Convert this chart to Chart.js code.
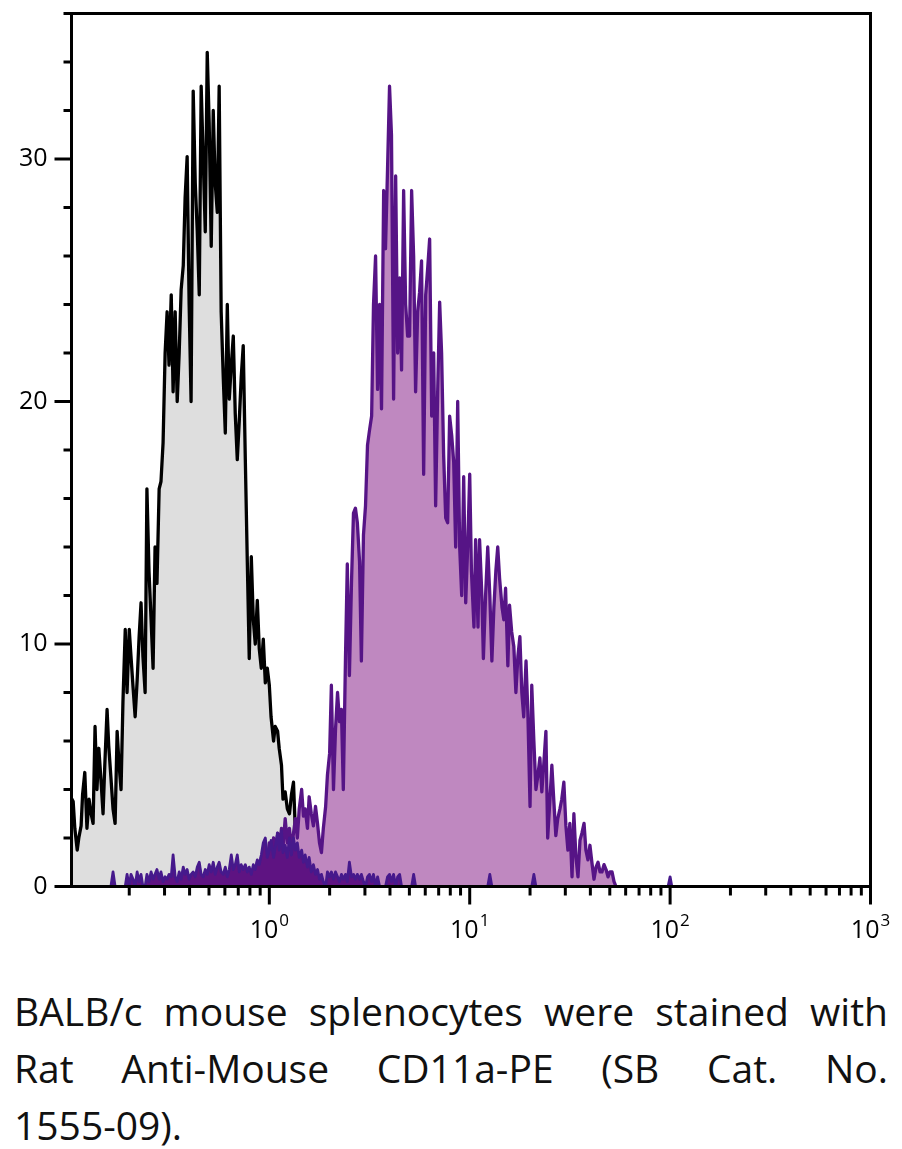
<!DOCTYPE html>
<html>
<head>
<meta charset="utf-8">
<script src="https://cdn.jsdelivr.net/npm/chart.js@4/dist/chart.umd.min.js"></script>
<style>
  body { margin: 0; background: #fff; }
  #wrap { position: relative; width: 902px; height: 1149px; overflow: hidden; }
  #histo { position: absolute; left: 0; top: 0; }
  #caption {
    position: absolute; left: 14px; top: 982px; width: 874px;
    font-family: "Open Sans", sans-serif; font-size: 39px; line-height: 57px; color: #111;
  }
  #caption .j { text-align: justify; text-align-last: justify; }
</style>
</head>
<body>
<div id="wrap">
  <canvas id="histo" width="902" height="960"></canvas>
  <div id="caption">
    <div class="j">BALB/c mouse splenocytes were stained with</div>
    <div class="j">Rat Anti-Mouse CD11a-PE (SB Cat. No.</div>
    <div>1555-09).</div>
  </div>
</div>
<script>
// histogram bin centres (log spaced, 100 per decade)
const bins = [
  0.100, 0.102, 0.105, 0.107, 0.110, 0.112, 0.115, 0.117, 0.120, 0.123,
  0.126, 0.129, 0.132, 0.135, 0.138, 0.141, 0.145, 0.148, 0.151, 0.155,
  0.158, 0.162, 0.166, 0.170, 0.174, 0.178, 0.182, 0.186, 0.191, 0.195,
  0.200, 0.204, 0.209, 0.214, 0.219, 0.224, 0.229, 0.234, 0.240, 0.245,
  0.251, 0.257, 0.263, 0.269, 0.275, 0.282, 0.288, 0.295, 0.302, 0.309,
  0.316, 0.324, 0.331, 0.339, 0.347, 0.355, 0.363, 0.372, 0.380, 0.389,
  0.398, 0.407, 0.417, 0.427, 0.437, 0.447, 0.457, 0.468, 0.479, 0.490,
  0.501, 0.513, 0.525, 0.537, 0.550, 0.562, 0.575, 0.589, 0.603, 0.617,
  0.631, 0.646, 0.661, 0.676, 0.692, 0.708, 0.724, 0.741, 0.759, 0.776,
  0.794, 0.813, 0.832, 0.851, 0.871, 0.891, 0.912, 0.933, 0.955, 0.977,
  1.00, 1.02, 1.05, 1.07, 1.10, 1.12, 1.15, 1.17, 1.20, 1.23,
  1.26, 1.29, 1.32, 1.35, 1.38, 1.41, 1.45, 1.48, 1.51, 1.55,
  1.58, 1.62, 1.66, 1.70, 1.74, 1.78, 1.82, 1.86, 1.91, 1.95,
  2.00, 2.04, 2.09, 2.14, 2.19, 2.24, 2.29, 2.34, 2.40, 2.45,
  2.51, 2.57, 2.63, 2.69, 2.75, 2.82, 2.88, 2.95, 3.02, 3.09,
  3.16, 3.24, 3.31, 3.39, 3.47, 3.55, 3.63, 3.72, 3.80, 3.89,
  3.98, 4.07, 4.17, 4.27, 4.37, 4.47, 4.57, 4.68, 4.79, 4.90,
  5.01, 5.13, 5.25, 5.37, 5.50, 5.62, 5.75, 5.89, 6.03, 6.17,
  6.31, 6.46, 6.61, 6.76, 6.92, 7.08, 7.24, 7.41, 7.59, 7.76,
  7.94, 8.13, 8.32, 8.51, 8.71, 8.91, 9.12, 9.33, 9.55, 9.77,
  10.0, 10.2, 10.5, 10.7, 11.0, 11.2, 11.5, 11.7, 12.0, 12.3,
  12.6, 12.9, 13.2, 13.5, 13.8, 14.1, 14.5, 14.8, 15.1, 15.5,
  15.8, 16.2, 16.6, 17.0, 17.4, 17.8, 18.2, 18.6, 19.1, 19.5,
  20.0, 20.4, 20.9, 21.4, 21.9, 22.4, 22.9, 23.4, 24.0, 24.5,
  25.1, 25.7, 26.3, 26.9, 27.5, 28.2, 28.8, 29.5, 30.2, 30.9,
  31.6, 32.4, 33.1, 33.9, 34.7, 35.5, 36.3, 37.2, 38.0, 38.9,
  39.8, 40.7, 41.7, 42.7, 43.7, 44.7, 45.7, 46.8, 47.9, 49.0,
  50.1, 51.3, 52.5, 53.7, 55.0, 56.2, 57.5, 58.9, 60.3, 61.7,
  63.1, 64.6, 66.1, 67.6, 69.2, 70.8, 72.4, 74.1, 75.9, 77.6,
  79.4, 81.3, 83.2, 85.1, 87.1, 89.1, 91.2, 93.3, 95.5, 97.7,
  100, 102, 105
];

// unstained / control histogram (black outline, grey fill), starts at bins[0]
const controlStart = 0;
const controlCounts = [
  3.7, 3.7, 3.5, 2.4, 1.5, 2.0, 2.5, 3.8, 4.7, 2.4,
  3.6, 3.0, 2.6, 6.6, 4.0, 5.7, 4.2, 3.0, 5.0, 7.3,
  5.8, 4.5, 3.2, 2.6, 6.4, 5.0, 4.0, 7.6, 10.6, 8.0,
  10.6, 9.5, 8.2, 7.0, 8.5, 10.3, 11.7, 9.5, 8.0, 16.4,
  13.0, 11.0, 9.0, 14.0, 12.5, 16.4, 16.7, 18.3, 22.0, 23.7,
  21.5, 24.4, 20.4, 23.7, 20.0, 22.0, 24.6, 25.6, 28.4, 30.1,
  24.0, 20.0, 32.8, 29.0, 27.0, 24.4, 33.0, 30.0, 27.0, 34.4,
  31.5, 26.4, 32.0, 29.0, 27.8, 33.0, 23.7, 21.0, 18.7, 24.0,
  20.1, 21.5, 22.7, 19.5, 17.6, 19.2, 21.0, 22.3, 17.6, 13.5,
  9.4, 13.6, 11.0, 10.0, 11.8, 9.8, 9.0, 10.2, 8.4, 9.0,
  8.3, 7.0, 6.0, 6.6, 6.4, 5.7, 5.0, 3.6, 3.9, 3.2,
  3.0, 3.8, 4.3, 2.2, 2.6, 1.8, 1.5, 1.2, 1.0, 0.7,
  0.5, 0.3, 0
];

// CD11a-PE stained histogram (purple), starts at bins[91]
const cd11aStart = 91;
const cd11aCounts = [
  0, 0.6, 0.3, 1.0, 0.5, 1.2, 0.8, 1.5, 1.0, 1.8,
  1.2, 2.0, 1.4, 2.2, 1.5, 2.4, 1.6, 2.8, 1.8, 2.4,
  1.5, 2.2, 2.8, 2.0, 3.2, 4.0, 2.9, 3.2, 2.4, 3.7,
  3.0, 2.5, 3.3, 2.6, 1.8, 1.4, 2.4, 3.3, 4.6, 5.5,
  8.3, 4.0, 6.5, 8.0, 6.8, 7.3, 4.0, 9.5, 13.3, 8.7,
  12.5, 15.4, 15.6, 15.0, 13.4, 9.3, 14.5, 15.7, 18.2, 18.8,
  19.4, 24.0, 26.0, 20.5, 24.0, 19.7, 28.7, 26.3, 29.6, 33.0,
  31.0, 20.1, 29.3, 22.0, 25.1, 21.3, 28.7, 24.0, 22.7, 22.7,
  28.7, 26.0, 20.4, 23.7, 24.5, 25.8, 17.0, 24.4, 25.5, 26.7,
  19.4, 22.0, 15.7, 20.4, 24.1, 22.0, 17.8, 15.2, 15.0, 19.4,
  18.6, 17.5, 14.0, 20.0, 14.0, 12.0, 16.9, 11.7, 14.0, 17.0,
  13.0, 10.7, 14.3, 10.7, 14.3, 12.0, 9.4, 12.0, 14.0, 12.0,
  9.3, 11.5, 13.0, 14.0, 12.7, 11.5, 11.0, 12.3, 9.1, 11.6,
  10.5, 9.9, 8.0, 9.5, 10.3, 8.0, 7.0, 9.3, 7.2, 3.3,
  8.3, 6.0, 4.0, 4.6, 5.3, 3.9, 5.0, 6.4, 2.0, 3.5,
  5.0, 3.5, 2.1, 2.8, 3.2, 3.6, 4.3, 2.5, 1.5, 2.6,
  0.4, 3.0, 1.2, 0.4, 1.9, 2.2, 2.6, 1.5, 1.1, 1.7,
  1.0, 0.3, 0.8, 1.0, 0.6, 0.6, 0.9, 0.7, 0.4, 0.6,
  0.6, 0.2, 0
];

// low-level events (dark indigo), starts at bins[20]
const lowStart = 20;
const lowCounts = [
  0, 0, 0.6, 0, 0, 0, 0, 0, 0, 0.5,
  0, 0.5, 0.3, 0, 0.6, 0.2, 0.5, 0, 0, 0.5,
  0.2, 0.6, 0.3, 0.5, 0.7, 0.3, 0.6, 0.2, 0.4, 0.3,
  0.5, 0.4, 1.3, 0.4, 0.2, 0.6, 0.3, 0.8, 0.5, 0.7,
  0.3, 0.5, 0.6, 0.4, 0.8, 1.0, 0.5, 0.4, 0.7, 0.5,
  0.9, 0.6, 1.0, 0.5, 0.8, 1.0, 0.6, 0.5, 0.8, 0.4,
  0.7, 1.3, 0.7, 0.9, 1.3, 0.6, 0.9, 0.7, 0.9, 0.6,
  0.8, 0.5, 0.9, 0.7, 1.1, 0.9, 1.3, 1.8, 2.0, 1.2,
  1.5, 1.9, 1.2, 1.6, 2.2, 1.5, 2.3, 1.4, 1.7, 1.2,
  2.0, 1.3, 2.0, 1.5, 1.8, 1.2, 1.5, 1.0, 1.3, 0.8,
  1.2, 0.6, 0.9, 0.5, 0.7, 0.3, 0.5, 0.2, 0, 0.6,
  0.4, 0.6, 0.3, 0.6, 0.4, 0.2, 0.5, 0.3, 0.5, 0.2,
  1.0, 0.4, 0.5, 0.3, 0.5, 0.3, 0.5, 0.2, 0, 0.4,
  0.5, 0.2, 0.5, 0, 0.4, 0, 0, 0, 0, 0.4,
  0.5, 0.2, 0.5, 0, 0.4, 0.5, 0, 0, 0, 0,
  0, 0, 0.5, 0, 0, 0, 0, 0, 0, 0,
  0, 0, 0, 0, 0, 0, 0, 0, 0, 0,
  0, 0, 0, 0, 0, 0, 0, 0, 0, 0,
  0, 0, 0, 0, 0, 0, 0, 0, 0, 0,
  0.5, 0, 0, 0, 0, 0, 0, 0, 0, 0,
  0, 0, 0, 0, 0, 0, 0, 0, 0, 0,
  0, 0, 0.5, 0, 0, 0, 0, 0, 0, 0,
  0, 0, 0, 0, 0, 0, 0, 0, 0, 0,
  0, 0, 0, 0, 0, 0, 0, 0, 0, 0,
  0, 0, 0, 0, 0, 0, 0, 0, 0, 0,
  0, 0, 0, 0, 0, 0, 0, 0, 0, 0,
  0, 0, 0, 0, 0, 0, 0, 0, 0, 0,
  0, 0, 0, 0, 0, 0, 0, 0, 0, 0,
  0.4, 0, 0
];

// axes
const xMajorTicks = [1, 10, 100, 1000];
const xExponents = ["0", "1", "2", "3"];
const xMinorTicks = [
  0.2, 0.3, 0.4, 0.5, 0.6, 0.7, 0.8, 0.9,
  2, 3, 4, 5, 6, 7, 8, 9,
  20, 30, 40, 50, 60, 70, 80, 90,
  200, 300, 400, 500, 600, 700, 800, 900
];
const yLabelTicks = [0, 10, 20, 30];
const yMarkTicks = [0, 2, 4, 6, 8, 10, 12, 14, 16, 18, 20, 22, 24, 26, 28, 30, 32, 34, 36];

const FONT = '"Open Sans", sans-serif';

function toPoints(counts, start) {
  return counts.map((c, i) => ({ x: bins[start + i], y: c }));
}

// frame, tick marks and x labels drawn over the histograms
const axisPlugin = {
  id: "axisPlugin",
  afterDatasetsDraw(chart) {
    const { ctx, chartArea: a } = chart;
    const xs = chart.scales.x;
    const ys = chart.scales.y;
    ctx.save();
    ctx.strokeStyle = "#000";
    ctx.lineWidth = 3;
    ctx.lineCap = "butt";
    ctx.strokeRect(a.left, a.top, a.right - a.left, a.bottom - a.top);

    const seg = (x1, y1, x2, y2) => {
      ctx.beginPath();
      ctx.moveTo(x1, y1);
      ctx.lineTo(x2, y2);
      ctx.stroke();
    };

    yMarkTicks.forEach(v => {
      const py = ys.getPixelForValue(v);
      const len = v % 10 === 0 ? 17 : 8;
      seg(a.left - len, py, a.left, py);
    });

    xMinorTicks.forEach(v => {
      const px = xs.getPixelForValue(v);
      seg(px, a.bottom, px, a.bottom + 9);
    });

    ctx.fillStyle = "#000";
    ctx.textBaseline = "alphabetic";
    ctx.textAlign = "left";
    xMajorTicks.forEach((v, i) => {
      const px = xs.getPixelForValue(v);
      seg(px, a.bottom, px, a.bottom + 18);
      ctx.font = "25px " + FONT;
      const wBase = ctx.measureText("10").width;
      ctx.font = "17px " + FONT;
      const wExp = ctx.measureText(xExponents[i]).width;
      const x0 = px - (wBase + wExp + 1) / 2;
      ctx.font = "25px " + FONT;
      ctx.fillText("10", x0, a.bottom + 51);
      ctx.font = "17px " + FONT;
      ctx.fillText(xExponents[i], x0 + wBase + 1, a.bottom + 39);
    });
    ctx.restore();
  }
};

new Chart(document.getElementById("histo"), {
  type: "line",
  data: {
    datasets: [
      {
        label: "low",
        data: toPoints(lowCounts, lowStart),
        borderColor: "#46198c",
        backgroundColor: "#5e1382",
        borderWidth: 2.8,
        fill: "origin",
        order: 0
      },
      {
        label: "CD11a-PE",
        data: toPoints(cd11aCounts, cd11aStart),
        borderColor: "#561486",
        backgroundColor: "#bf88c0",
        borderWidth: 3.3,
        fill: "origin",
        order: 1
      },
      {
        label: "control",
        data: toPoints(controlCounts, controlStart),
        borderColor: "#000000",
        backgroundColor: "#dedede",
        borderWidth: 3.3,
        fill: "origin",
        order: 2
      }
    ]
  },
  options: {
    responsive: false,
    animation: false,
    events: [],
    layout: { padding: { top: 13.5, right: 31.5, left: 0, bottom: 0 } },
    elements: {
      point: { radius: 0 },
      line: { tension: 0, borderJoinStyle: "round" }
    },
    plugins: {
      legend: { display: false },
      tooltip: { enabled: false },
      title: { display: false }
    },
    scales: {
      x: {
        type: "logarithmic",
        min: 0.103,
        max: 1000,
        border: { display: false },
        grid: { display: false },
        ticks: { display: false },
        afterBuildTicks: s => { s.ticks = xMajorTicks.map(v => ({ value: v })); },
        afterFit: s => { s.height = 73.5; s.paddingLeft = 0; s.paddingRight = 0; }
      },
      y: {
        type: "linear",
        min: 0,
        max: 36,
        border: { display: false },
        grid: {
          display: true,
          drawOnChartArea: false,
          drawTicks: true,
          tickLength: 16,
          color: "rgba(0,0,0,0)",
          tickColor: "rgba(0,0,0,0)"
        },
        ticks: {
          color: "#000",
          padding: 8,
          font: { family: FONT, size: 25 }
        },
        afterBuildTicks: s => { s.ticks = yLabelTicks.map(v => ({ value: v })); },
        afterFit: s => { s.width = 71.5; s.paddingTop = 0; s.paddingBottom = 0; }
      }
    }
  },
  plugins: [axisPlugin]
});
</script>
</body>
</html>
